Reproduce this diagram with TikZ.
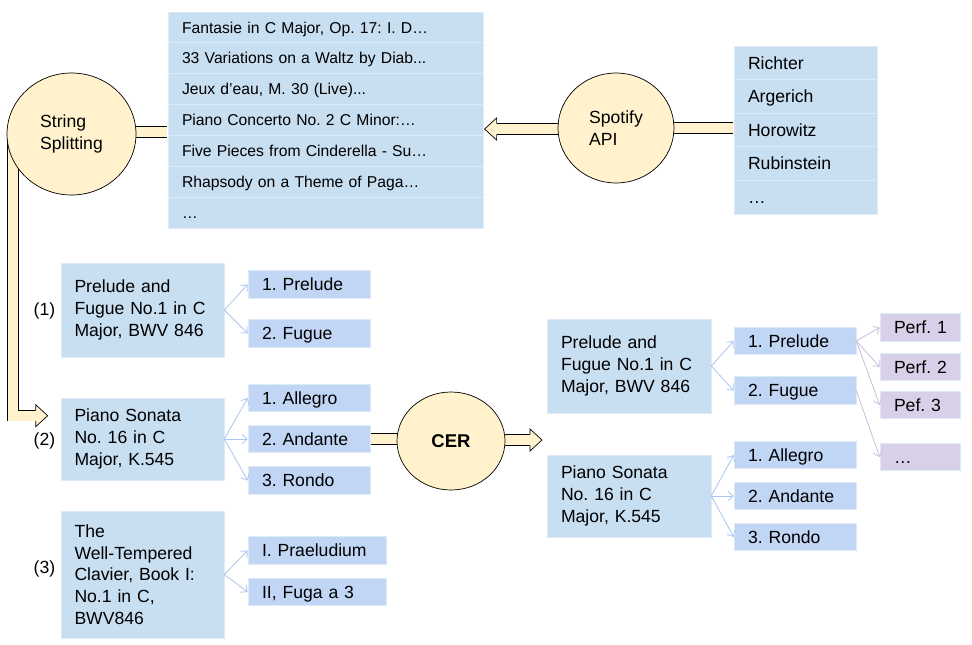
\documentclass[tikz,border=0pt]{standalone}
\usepackage{fontspec}
\setmainfont{Liberation Sans}
\frenchspacing
\usetikzlibrary{arrows.meta,shapes.geometric,fit,calc}
\pgfdeclarelayer{bg}
\pgfsetlayers{bg,main}
\definecolor{bigblue}{RGB}{200,222,241}
\definecolor{smallblue}{RGB}{193,214,245}
\definecolor{lilac}{RGB}{216,208,232}
\definecolor{cream}{RGB}{255,242,204}
\definecolor{arrblue}{RGB}{170,198,242}
\definecolor{arrlilac}{RGB}{200,190,226}
\definecolor{rowline}{RGB}{222,234,247}
\newcommand\blockhead[2]{%
  \begin{scope}[shift={(#1)},rotate=#2]
    \fill[cream] (0,0)--(-12,-11)--(-12,11)--cycle;
    \draw[line width=0.7pt,line join=miter] (-12,-5.35)--(-12,-11)--(0,0)--(-12,11)--(-12,5.35);
  \end{scope}}
\tikzset{
  txt/.style={font=\fontsize{17.6}{21.7}\selectfont},
  row/.style={fill=bigblue, draw=rowline, line width=0.8pt, inner xsep=14pt, inner ysep=0pt, align=left},
  toprow/.style={row, text width=287pt, minimum height=30.86pt, font=\fontsize{15.7}{19}\selectfont, text height=11.5pt, text depth=0.3pt},
  rrow/.style={row, text width=115pt, minimum height=33.6pt, txt, text height=12.9pt, text depth=0.2pt},
  bigbox/.style={fill=bigblue, draw=rowline, line width=0.6pt, inner xsep=13.5pt, inner ysep=0pt, align=left, txt},
  smallbox/.style={fill=smallblue, draw=rowline, line width=0.6pt, inner xsep=14pt, inner ysep=0pt, align=left, minimum height=27.5pt, txt, text height=12.9pt, text depth=0.2pt},
  perfbox/.style={smallbox, fill=lilac, text width=52pt},
  proc/.style={ellipse, draw=black, line width=0.7pt, fill=cream, inner sep=0pt, align=left, txt},
  blockbar/.style={draw=black, line width=0.7pt, double=cream, double distance=10pt, line join=miter},
  thinarr/.style={draw=arrblue, line width=0.8pt, -{Straight Barb[length=5pt,width=9pt]}},
  thinlil/.style={thinarr, draw=arrlilac},
  lbl/.style={txt, inner sep=0pt}
}
\begin{document}
\begin{tikzpicture}[x=1pt,y=-1pt]
\useasboundingbox (0,0) rectangle (972,645);

% circles
\node[proc, minimum width=129pt, minimum height=122pt] (ss) at (71.5,134) {String\\Splitting};
\node[proc, minimum width=116pt, minimum height=110pt] (sp) at (616,128) {Spotify\\API};
\node[proc, minimum width=108pt, minimum height=98pt, font=\fontsize{18.5}{22}\selectfont\bfseries] (cer) at (451,441) {CER};

% top list
\node[toprow] (t1) at (325.5,27.4) {Fantasie in C Major, Op. 17: I. D…};
\node[toprow] (t2) at (325.5,58.3) {33 Variations on a Waltz by Diab...};
\node[toprow] (t3) at (325.5,89.1) {Jeux d'eau, M. 30 (Live)...};
\node[toprow] (t4) at (325.5,120.0) {Piano Concerto No. 2 C Minor:…};
\node[toprow] (t5) at (325.5,150.9) {Five Pieces from Cinderella - Su…};
\node[toprow] (t6) at (325.5,181.7) {Rhapsody on a Theme of Paga…};
\node[toprow] (t7) at (325.5,212.6) {…};
\node[fit=(t1)(t7), inner sep=0pt] (tlist) {};

% right list
\node[rrow] (a1) at (805.5,62.8) {Richter};
\node[rrow] (a2) at (805.5,96.4) {Argerich};
\node[rrow] (a3) at (805.5,130.0) {Horowitz};
\node[rrow] (a4) at (805.5,163.6) {Rubinstein};
\node[rrow] (a5) at (805.5,197.2) {…};
\node[fit=(a1)(a5), inner sep=0pt] (rlist) {};

% left column
\node[bigbox, text width=136pt, minimum height=94pt] (p1) at (142.5,310) {Prelude and\\Fugue No.1 in C\\Major, BWV 846};
\node[bigbox, text width=136pt, minimum height=82pt] (p2) at (142.5,439) {Piano Sonata\\No. 16 in C\\Major, K.545};
\node[bigbox, text width=136pt, minimum height=127pt] (p3) at (142.5,574.5) {The\\Well-Tempered\\Clavier, Book I:\\No.1 in C,\\BWV846};
\node[lbl] (l1) at (44.5,311) {(1)};
\node[lbl] (l2) at (44.5,441) {(2)};
\node[lbl] (l3) at (44.5,569) {(3)};

\node[smallbox, text width=94pt] (m11) at (309,284.5) {1. Prelude};
\node[smallbox, text width=94pt] (m12) at (309,333.5) {2. Fugue};
\node[smallbox, text width=94pt] (m21) at (309,398) {1. Allegro};
\node[smallbox, text width=94pt] (m22) at (309,439) {2. Andante};
\node[smallbox, text width=94pt] (m23) at (309,480.5) {3. Rondo};
\node[smallbox, text width=110pt] (m31) at (317,550.5) {I. Praeludium};
\node[smallbox, text width=110pt] (m32) at (317,592) {II, Fuga a~3};

% right side
\node[bigbox, text width=136pt, minimum height=94pt, inner xsep=14pt] (r1) at (629,366) {Prelude and\\Fugue No.1 in C\\Major, BWV 846};
\node[bigbox, text width=136pt, minimum height=82pt, inner xsep=14pt] (r2) at (629,496) {Piano Sonata\\No. 16 in C\\Major, K.545};
\node[smallbox, text width=94pt] (n11) at (795,341) {1. Prelude};
\node[smallbox, text width=94pt] (n12) at (795,390.5) {2. Fugue};
\node[smallbox, text width=94pt] (n21) at (795,455) {1. Allegro};
\node[smallbox, text width=94pt] (n22) at (795,496) {2. Andante};
\node[smallbox, text width=94pt] (n23) at (795,537) {3. Rondo};
\node[perfbox] (q1) at (920,327.5) {Perf.~1};
\node[perfbox] (q2) at (920,367) {Perf.~2};
\node[perfbox] (q3) at (920,405) {Pef.~3};
\node[perfbox] (q4) at (920,457) {…};

% thin connectors
\draw[thinarr] (p1.east) -- (m11.west);
\draw[thinarr] (p1.east) -- (m12.west);
\draw[thinarr] (p2.east) -- (m21.west);
\draw[thinarr] (p2.east) -- (m22.west);
\draw[thinarr] (p2.east) -- (m23.west);
\draw[thinarr] (p3.east) -- (m31.west);
\draw[thinarr] (p3.east) -- (m32.west);
\draw[thinarr] (r1.east) -- (n11.west);
\draw[thinarr] (r1.east) -- (n12.west);
\draw[thinarr] (r2.east) -- (n21.west);
\draw[thinarr] (r2.east) -- (n22.west);
\draw[thinarr] (r2.east) -- (n23.west);
\draw[thinlil] (n11.east) -- (q1.west);
\draw[thinlil] (n11.east) -- (q2.west);
\draw[thinlil] (n11.east) -- (q3.west);
\draw[thinlil] (n12.east) -- (q4.west);

% block arrows (behind)
\coordinate (sptip) at ($(tlist.east |- sp.center)+(1,1)$);
\coordinate (ltip) at ($(p2.north west)+(-13,18)$);
\coordinate (ctip) at ($(cer.center)+(91,-1)$);
\begin{pgfonlayer}{bg}
  \fill[white] (0,0) rectangle (972,645);
  \draw[blockbar] ([yshift=2pt]ss.center) -- ([yshift=2pt]ss.center -| tlist.west);
  \draw[blockbar] ($(sp.center)+(0,1)$) -- ($(sptip)+(12,0)$);
  \draw[blockbar] (sp.center) -- (sp.center -| rlist.west);
  \draw[blockbar] ($(ss.center)+(-58.5,0)$) |- ($(ltip)+(-12,0)$);
  \draw[blockbar] (m22.center) -- (m22.center -| cer.center);
  \draw[blockbar] ($(cer.center)+(0,-1)$) -- ($(ctip)+(-12,0)$);
  \blockhead{sptip}{180}
  \blockhead{ltip}{0}
  \blockhead{ctip}{0}
\end{pgfonlayer}
\end{tikzpicture}
\end{document}
